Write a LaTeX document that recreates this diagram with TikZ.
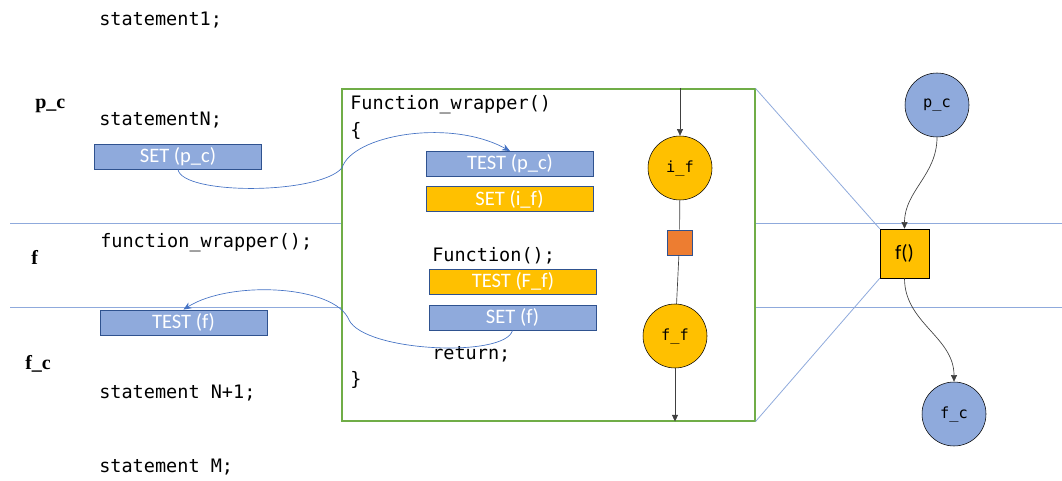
\documentclass[tikz,border=0pt]{standalone}
\usepackage{fontspec}
\setmainfont{Carlito}
\newfontfamily\codefont{DejaVu Sans Mono}
\newfontfamily\tagfont{Liberation Serif}
\usetikzlibrary{arrows.meta}

\definecolor{boxblue}{HTML}{8FAADC}
\definecolor{boxedge}{HTML}{2F528F}
\definecolor{flagorange}{HTML}{FFC000}
\definecolor{fnorange}{HTML}{ED7D31}
\definecolor{wrapgreen}{HTML}{70AD47}
\definecolor{linkblue}{HTML}{4472C4}

\tikzset{
    code/.style={anchor=west, inner sep=0pt, font=\codefont\fontsize{13.9}{16}\selectfont},
    tag/.style={anchor=west, inner sep=0pt, font=\tagfont\bfseries\fontsize{15}{18}\selectfont},
    flag/.style={draw=boxedge, text=white, minimum width=125pt, minimum height=19pt,
        inner sep=0pt, font=\fontsize{15.4}{18}\selectfont},
    setbox/.style={flag, fill=boxblue},
    hitbox/.style={flag, fill=flagorange},
    state/.style={circle, draw, minimum size=48pt, inner sep=0pt,
        font=\codefont\fontsize{11.5}{13}\selectfont},
    divider/.style={boxblue, line width=0.6pt},
    flow/.style={-{Triangle[length=5pt,width=4.5pt]}, black!75, line width=0.5pt},
    link/.style={-{Stealth[length=6pt,width=5pt]}, linkblue, line width=0.5pt}
}

\begin{document}
\begin{tikzpicture}[x=0.75pt, y=-0.75pt]
    \useasboundingbox (0,0) rectangle (1062,481);

    % calling code
    \node[code] (s1) at (99,20) {statement1;};
    \node[code] (sN) at (99,120) {statementN;};
    \node[code] (wcall) at (100,243) {function\_wrapper();};
    \node[code] (sN1) at (99,393) {statement N+1;};
    \node[code] (sM) at (99,467) {statement M;};

    \node[tag] (tpc) at (35,106) {p\_c};
    \node[tag] (tf) at (31,257) {f};
    \node[tag] (tfc) at (25,364) {f\_c};

    \draw[divider] (10,223) -- (1062,223);
    \draw[divider] (10,307) -- (1062,307);

    \node[setbox] (setpc) at (178,156.5) {SET (p\_c)};
    \node[setbox] (testf) at (183.5,322.5) {TEST (f)};

    % the wrapper
    \node[draw=wrapgreen, fill=white, line width=0.8pt, minimum width=309.75pt,
        minimum height=249pt, inner sep=0pt] (wrap) at (548.5,255) {};

    \node[code] (whead) at (350,105) {Function\_wrapper()};
    \node[code] (wopen) at (350,131) {\{};
    \node[code] (fcall) at (432,256) {Function();};
    \node[code] (wret) at (432,354) {return;};
    \node[code] (wclose) at (350,380) {\}};

    \node[setbox] (testpc) at (510,164) {TEST (p\_c)};
    \node[hitbox] (setif) at (509.5,199) {SET (i\_f)};
    \node[hitbox] (testFf) at (513,281.5) {TEST (F\_f)};
    \node[setbox] (setf) at (512.5,317.5) {SET (f)};

    \node[state, fill=flagorange] (iflag) at (680,168) {i\_f};
    \node[draw=boxedge, fill=fnorange, minimum size=18.75pt, inner sep=0pt] (fnbox) at (679.5,242.5) {};
    \node[state, fill=flagorange] (fflag) at (675,336) {f\_f};

    \draw[flow] (iflag.north |- wrap.north) -- (iflag);
    \draw[black!75, line width=0.5pt] (iflag) -- (fnbox);
    \draw[black!75, line width=0.5pt] (fnbox) -- (fflag);
    \draw[flow] (fflag) -- (fflag.south |- wrap.south);

    % flags passed in and out
    \draw[link] (setpc.south) .. controls (182,195) and (318,195) .. (342,168)
        .. controls (352,135) and (450,118) .. (testpc.north);
    \draw[link] (setf.south) .. controls (505,358) and (365,352) .. (349,320)
        .. controls (335,285) and (230,280) .. (testf.north);

    % abstract view
    \node[state, fill=boxblue] (pcnode) at (937,105) {p\_c};
    \node[draw, fill=flagorange, minimum size=36.75pt, inner sep=0pt,
        font=\fontsize{15.4}{18}\selectfont] (fnode) at (904.5,253.5) {f()};
    \node[state, fill=boxblue] (fcnode) at (954,414) {f\_c};

    \draw[flow] (pcnode) to[out=-90, in=90] (fnode);
    \draw[flow] (fnode) to[out=-90, in=90] (fcnode);

    \draw[divider] (wrap.north east) -- (fnode.north west);
    \draw[divider] (wrap.south east) -- (fnode.south west);
\end{tikzpicture}
\end{document}
